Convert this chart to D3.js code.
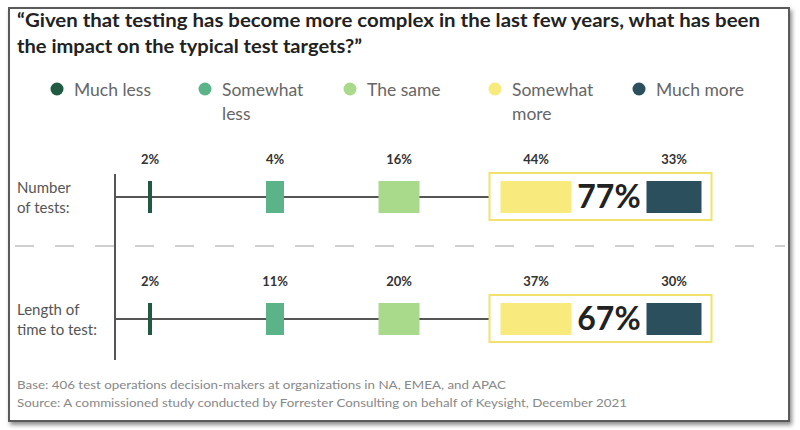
<!DOCTYPE html>
<html>
<head>
<meta charset="utf-8">
<script src="https://cdn.jsdelivr.net/npm/d3@7/dist/d3.min.js"></script>
<style>
  html, body { margin: 0; padding: 0; background: #ffffff; }
  svg { display: block; }
  text { font-family: Lato, "Open Sans", "DejaVu Sans", sans-serif; }
</style>
</head>
<body>
<div id="chart"></div>
<script>
// ---------- data ----------
const titleLines = [
  "\u201CGiven that testing has become more complex in the last few years, what has been",
  "the impact on the typical test targets?\u201D"
];
const categories = ["Much less", "Somewhat less", "The same", "Somewhat more", "Much more"];
const legendLabels = [["Much less"], ["Somewhat", "less"], ["The same"], ["Somewhat", "more"], ["Much more"]];
const rowNames = ["Number of tests:", "Length of time to test:"];
const rowLabelLines = [["Number", "of tests:"], ["Length of", "time to test:"]];
const numberOfTests = [2, 4, 16, 44, 33];
const lengthOfTime = [2, 11, 20, 37, 30];
const footnotes = [
  "Base: 406 test operations decision-makers at organizations in NA, EMEA, and APAC",
  "Source: A commissioned study conducted by Forrester Consulting on behalf of Keysight, December 2021"
];
const highlightCategories = ["Somewhat more", "Much more"];

const rows = rowNames.map((name, i) => ({
  name,
  lines: rowLabelLines[i],
  values: [numberOfTests, lengthOfTime][i]
}));

// ---------- setup ----------
const W = 800, H = 430;
const svg = d3.select("#chart").append("svg").attr("width", W).attr("height", H);

const defs = svg.append("defs");
const f = defs.append("filter").attr("id", "shadow").attr("x", "-5%").attr("y", "-5%").attr("width", "110%").attr("height", "115%");
f.append("feDropShadow").attr("dx", 2).attr("dy", 3).attr("stdDeviation", 2).attr("flood-color", "#000").attr("flood-opacity", 0.45);

const color = d3.scaleOrdinal().domain(categories)
  .range(["#1f5a41", "#5bb489", "#a9da8c", "#f8ea7c", "#2b4f5d"]);
const x = d3.scaleOrdinal().domain(categories).range([150, 275, 399, 536, 674]);
const markW = d3.scaleOrdinal().domain(categories).range([4, 18, 41, 71, 55]);
const y = d3.scaleOrdinal().domain(rowNames).range([197, 319]);
const markH = 32;

// frame
svg.append("rect").attr("x", 9).attr("y", 8).attr("width", 780).attr("height", 413)
  .attr("fill", "#fff").attr("stroke", "#5a5a5a").attr("stroke-width", 2)
  .attr("filter", "url(#shadow)");

// title
svg.append("g").selectAll("text").data(titleLines).join("text")
  .attr("x", 17).attr("y", (d, i) => 27 + i * 25.5)
  .attr("font-size", 18).attr("font-weight", 700).attr("fill", "#222")
  .attr("textLength", (d, i) => i === 0 ? 743 : 345)
  .attr("lengthAdjust", "spacingAndGlyphs")
  .text(d => d);

// legend
const legendX = [57, 205, 350, 495, 639];
const lg = svg.append("g").selectAll("g").data(categories).join("g")
  .attr("transform", (d, i) => `translate(${legendX[i]},89)`);
lg.append("circle").attr("r", 6.5).attr("fill", d => color(d));
lg.append("text").attr("x", 17).attr("y", 7).attr("font-size", 17.5).attr("fill", "#666")
  .selectAll("tspan").data((d, i) => legendLabels[i]).join("tspan")
  .attr("x", 17).attr("dy", (d, i) => i === 0 ? 0 : 24).text(d => d);

// dashed separator
svg.append("line").attr("x1", 15).attr("x2", 785).attr("y1", 246).attr("y2", 246)
  .attr("stroke", "#cfcfcf").attr("stroke-width", 2).attr("stroke-dasharray", "19 21");

// vertical axis
svg.append("line").attr("x1", 115).attr("x2", 115).attr("y1", 174).attr("y2", 360)
  .attr("stroke", "#555").attr("stroke-width", 2);

const boxLeft = x(highlightCategories[0]) - markW(highlightCategories[0]) / 2 - 11;
const boxRight = x(highlightCategories[1]) + markW(highlightCategories[1]) / 2 + 10;

const rg = svg.append("g").selectAll("g").data(rows).join("g");

// row labels
rg.append("text").attr("font-size", 15).attr("fill", "#555")
  .selectAll("tspan").data(d => d.lines.map(l => ({ l, row: d.name }))).join("tspan")
  .attr("x", 17).attr("y", (d, i) => y(d.row) - 4 + i * 20).text(d => d.l);

// horizontal connector line
rg.append("line").attr("x1", 115).attr("x2", boxLeft)
  .attr("y1", d => y(d.name)).attr("y2", d => y(d.name))
  .attr("stroke", "#555").attr("stroke-width", 2);

// highlight box
rg.append("rect").attr("x", boxLeft).attr("y", d => y(d.name) - 24)
  .attr("width", boxRight - boxLeft).attr("height", 47)
  .attr("fill", "#fff").attr("stroke", "#f0e26a").attr("stroke-width", 2);

// markers
rg.selectAll("rect.mark").data(d => d.values.map((v, i) => ({ v, cat: categories[i], row: d.name })))
  .join("rect").attr("class", "mark")
  .attr("x", d => x(d.cat) - markW(d.cat) / 2)
  .attr("y", d => y(d.row) - markH / 2)
  .attr("width", d => markW(d.cat)).attr("height", markH)
  .attr("fill", d => color(d.cat));

// value labels
rg.selectAll("text.val").data(d => d.values.map((v, i) => ({ v, cat: categories[i], row: d.name })))
  .join("text").attr("class", "val")
  .attr("x", d => x(d.cat)).attr("y", d => y(d.row) - 33)
  .attr("text-anchor", "middle").attr("font-size", 13).attr("font-weight", 700).attr("fill", "#333")
  .text(d => d.v + "%");

// total labels
rg.append("text")
  .attr("x", (x(highlightCategories[0]) + markW(highlightCategories[0]) / 2 + x(highlightCategories[1]) - markW(highlightCategories[1]) / 2) / 2)
  .attr("y", d => y(d.name) + 11)
  .attr("text-anchor", "middle").attr("font-size", 32).attr("font-weight", 700).attr("fill", "#222")
  .text(d => (d.values[categories.indexOf(highlightCategories[0])] + d.values[categories.indexOf(highlightCategories[1])]) + "%");

// footnotes
svg.append("g").selectAll("text").data(footnotes).join("text")
  .attr("x", 17).attr("y", (d, i) => 389 + i * 18)
  .attr("font-size", 11.5).attr("fill", "#888")
  .attr("textLength", (d, i) => i === 0 ? 489 : 610)
  .attr("lengthAdjust", "spacingAndGlyphs")
  .text(d => d);
</script>
</body>
</html>
